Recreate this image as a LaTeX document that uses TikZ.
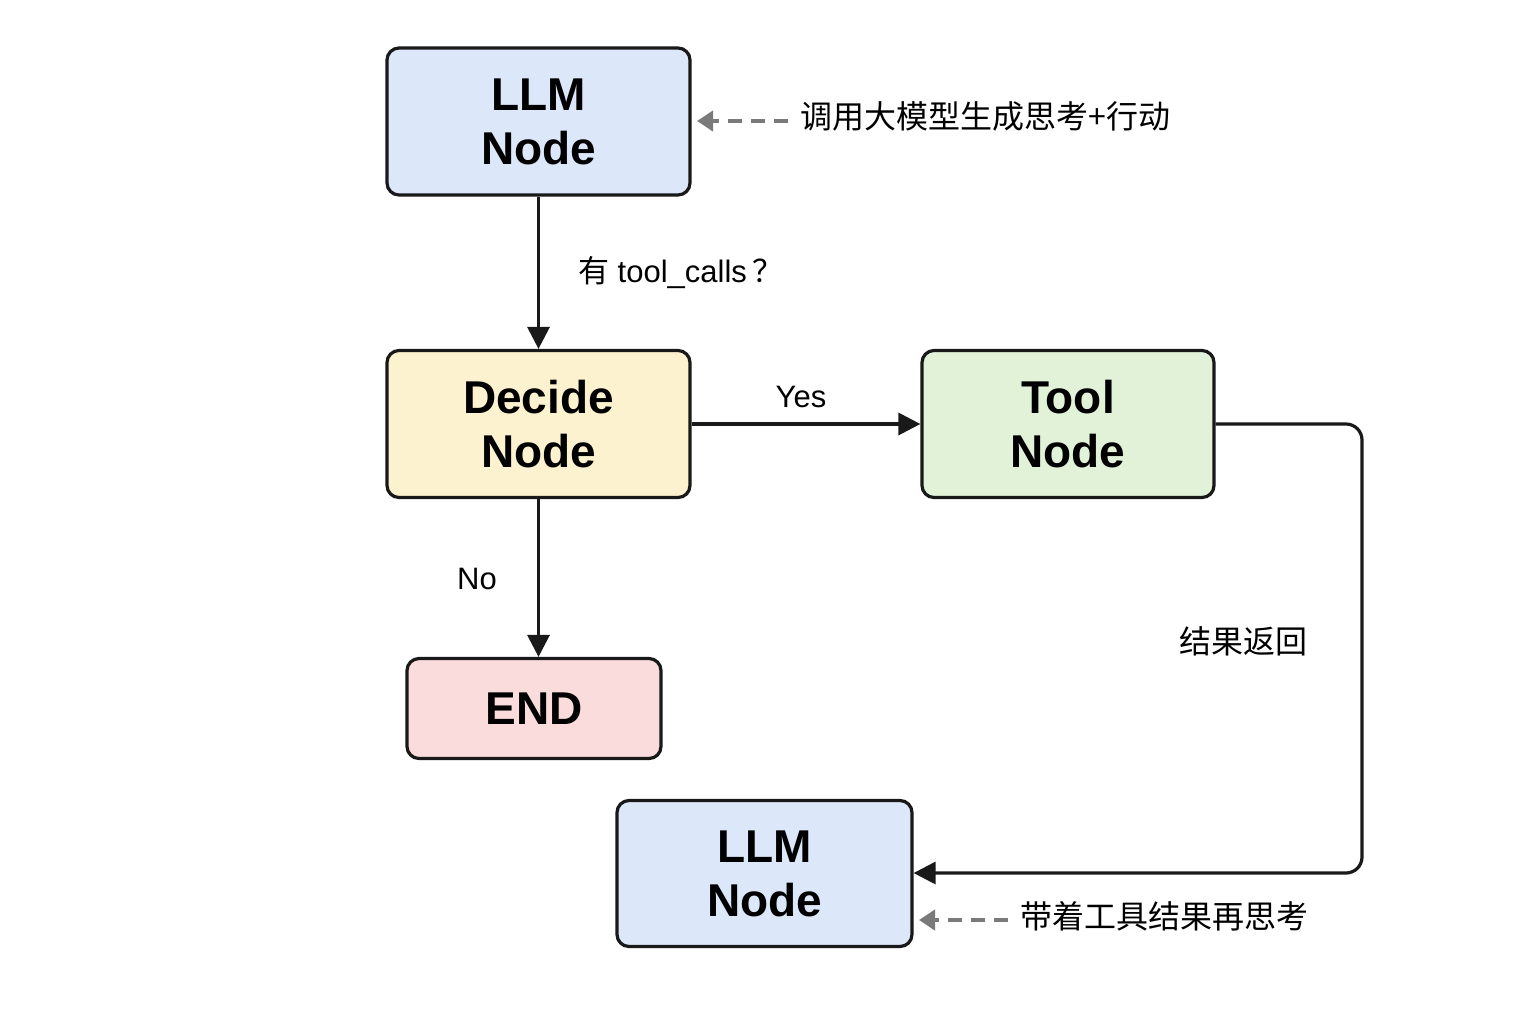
\documentclass[tikz,border=0pt]{standalone}
\usepackage{fontspec}
\setmainfont{Liberation Sans}
\newfontfamily\cjk{Noto Sans CJK SC}
\usetikzlibrary{arrows.meta}
\definecolor{cblue}{HTML}{DCE8FA}
\definecolor{cyellow}{HTML}{FDF2CF}
\definecolor{cgreen}{HTML}{E1F2D8}
\definecolor{cpink}{HTML}{FADCDC}
\definecolor{cgray}{HTML}{7A7A7A}
\begin{document}
\begin{tikzpicture}[x=0.5pt,y=-0.5pt,
  box/.style={draw=black!90, line width=1.6pt, rounded corners=6pt, align=center,
    font=\fontsize{23}{27}\selectfont\bfseries, inner sep=0pt},
  flow/.style={draw=black!90, line width=1.6pt, -{Triangle[length=11pt,width=11pt]}},
  note/.style={draw=cgray, line width=2pt, dash pattern=on 7pt off 4.5pt, -{Triangle[length=8pt,width=10pt]}},
  lbl/.style={font=\fontsize{15.5}{18}\selectfont, inner sep=0pt},
  cnote/.style={font=\cjk\fontsize{16}{19}\selectfont, inner sep=0pt, anchor=west}]
\useasboundingbox (0,0) rectangle (1536,1024);
\fill[white] (0,0) rectangle (1536,1024);

\node[box, fill=cblue, minimum width=151.5pt, minimum height=73.5pt] (llm1) at (538.5,121.5) {LLM\\Node};
\node[box, fill=cyellow, minimum width=151.5pt, minimum height=73.5pt] (decide) at (538.5,424) {Decide\\Node};
\node[box, fill=cgreen, minimum width=146pt, minimum height=73.5pt] (tool) at (1068,424) {Tool\\Node};
\node[box, fill=cpink, minimum width=127pt, minimum height=50pt] (end) at (534,708.5) {END};
\node[box, fill=cblue, minimum width=147.5pt, minimum height=73pt] (llm2) at (764.5,873.5) {LLM\\Node};

\draw[flow] (llm1.south) -- (decide.north) node[lbl, midway, right=19pt, anchor=west] {{\cjk 有} tool\_calls\,{\cjk ？}};
\draw[flow] (decide.east) -- (tool.west);
\node[lbl] (yes) at (801,397) {Yes};
\draw[flow] (decide.south) -- (decide.south |- end.north);
\node[lbl] (no) at (477,579) {No};
\coordinate (corner1) at (1362,424);
\coordinate (corner2) at (1362,873);
\draw[flow, rounded corners=8pt] (tool.east) -- (corner1) -- (corner2) -- (llm2.east |- corner2);
\node[cnote] (ret) at (1179,641) {结果返回};

\node[cnote] (n1) at (800,116) {调用大模型生成思考+行动};
\coordinate (n1a) at (697,121);
\draw[note] (n1.west) ++(-12,5) coordinate (n1s) (n1s) -- (n1a);

\node[cnote] (n2) at (1020,916) {带着工具结果再思考};
\coordinate (n2a) at (919,920);
\draw[note] (n2.west) ++(-12,4) coordinate (n2s) (n2s) -- (n2a);
\end{tikzpicture}
\end{document}
